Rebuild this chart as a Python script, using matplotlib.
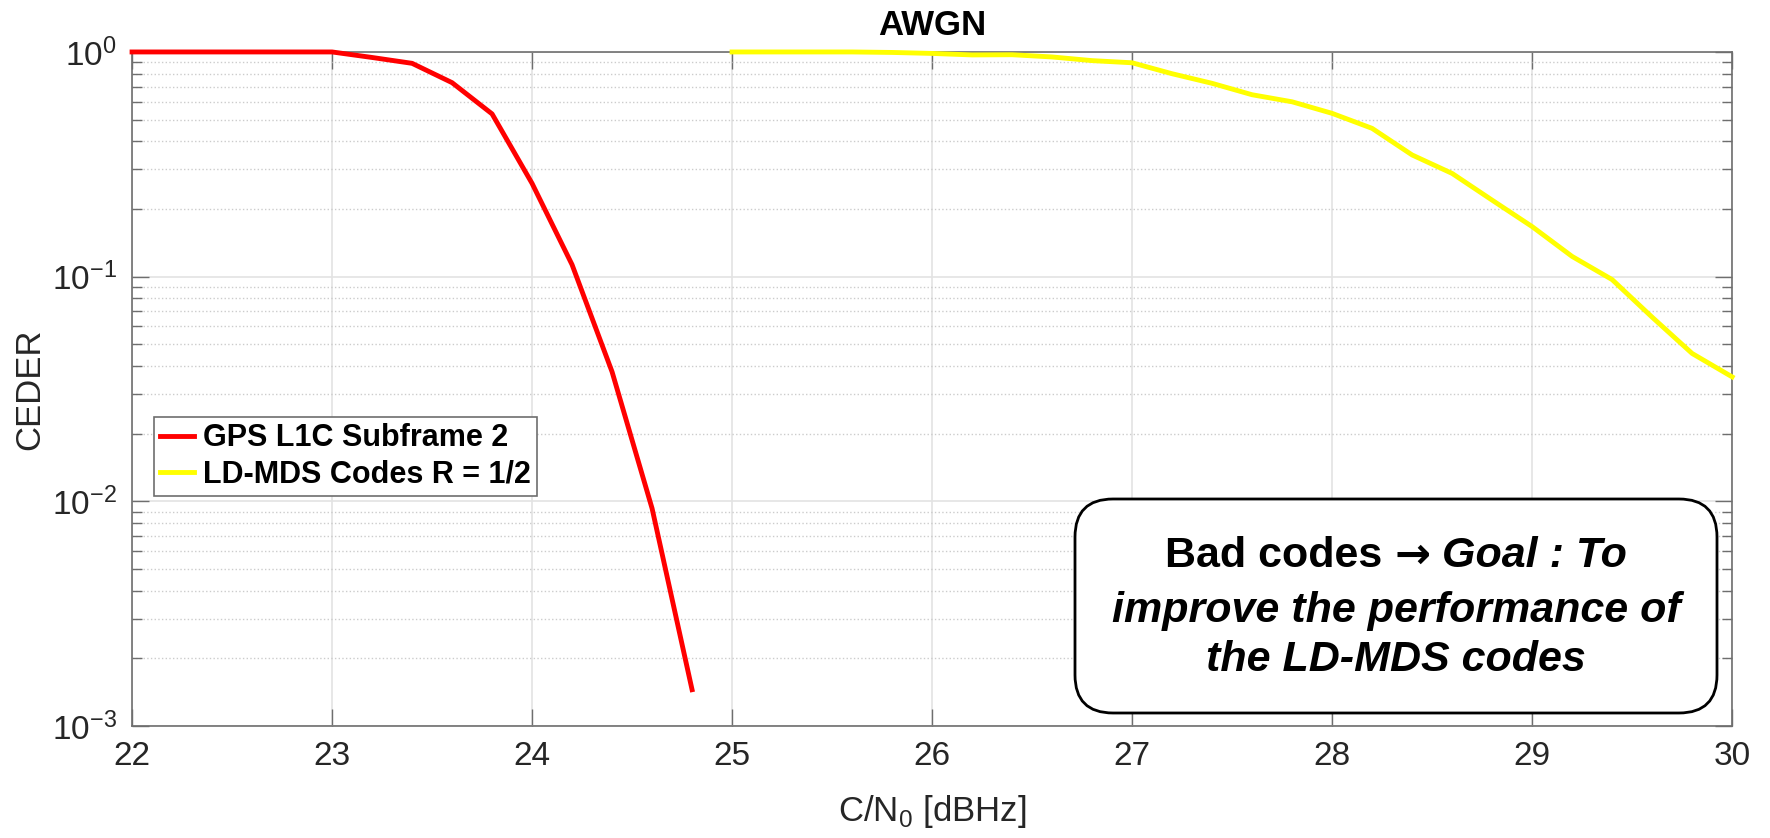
import numpy as np
import matplotlib.pyplot as plt
from matplotlib.patches import FancyBboxPatch
from matplotlib.transforms import IdentityTransform

plt.rcParams['font.family'] = ['Liberation Sans', 'DejaVu Sans']
plt.rcParams['axes.unicode_minus'] = False

# CEDER vs C/N0 curves (AWGN channel)
cn0_gps = [22.0, 22.2, 22.4, 22.6, 22.8, 23.0, 23.2, 23.4, 23.6, 23.8, 24.0, 24.2, 24.4, 24.6, 24.8]
ceder_gps = [1.0, 1.0, 1.0, 1.0, 1.0, 1.0, 0.945, 0.89, 0.73, 0.53, 0.26, 0.113, 0.0377, 0.0093, 0.00145]

cn0_ldmds = [25.0, 25.2, 25.4, 25.6, 25.8, 26.0, 26.2, 26.4, 26.6, 26.8, 27.0, 27.2, 27.4,
             27.6, 27.8, 28.0, 28.2, 28.4, 28.6, 28.8, 29.0, 29.2, 29.4, 29.6, 29.8, 30.0]
ceder_ldmds = [1.0, 1.0, 1.0, 1.0, 0.995, 0.985, 0.97, 0.972, 0.95, 0.915, 0.895, 0.80, 0.725,
               0.645, 0.60, 0.533, 0.457, 0.348, 0.288, 0.219, 0.167, 0.123, 0.097, 0.066, 0.0455, 0.0358]

labels = ['GPS L1C Subframe 2', 'LD-MDS Codes R = 1/2']
xticks = [22, 23, 24, 25, 26, 27, 28, 29, 30]

axis_gray = '#6e6e6e'
text_gray = '#262626'

fig = plt.figure(figsize=(17.7, 8.38), dpi=100)
ax = fig.add_axes([0.0746, 0.1337, 0.904, 0.8043])

ax.plot(cn0_gps, ceder_gps, color='#ff0000', lw=3.5, label=labels[0], clip_on=False, zorder=5)
ax.plot(cn0_ldmds, ceder_ldmds, color='#ffff00', lw=3.5, label=labels[1], clip_on=False, zorder=5)

ax.set_yscale('log')
ax.set_xlim(22, 30)
ax.set_ylim(1e-3, 1)
ax.set_xticks(xticks)
ax.set_yticks([1e-3, 1e-2, 1e-1, 1])

ax.set_axisbelow(True)
ax.grid(True, which='major', color='#e3e3e3', lw=1.2, ls='-')
ax.grid(True, which='minor', axis='y', color='#cccccc', lw=1.0, ls=':')

for s in ax.spines.values():
    s.set_color(axis_gray)
    s.set_linewidth(1.2)

ax.tick_params(axis='both', which='major', direction='in', length=12, width=1,
               color=axis_gray, labelsize=24, labelcolor=text_gray, top=True, right=True)
ax.tick_params(axis='x', which='major', pad=11)
ax.tick_params(axis='y', which='major', pad=11)
ax.tick_params(axis='y', which='minor', direction='in', length=7, width=1,
               color=axis_gray, left=True, right=True)
ax.tick_params(axis='x', which='minor', bottom=False, top=False)

ax.set_title('AWGN', fontsize=25, fontweight='bold', pad=12)
ax.set_xlabel('C/N$_\\mathdefault{0}$ [dBHz]', fontsize=25, color=text_gray, labelpad=15)
ax.set_ylabel('CEDER', fontsize=25, color=text_gray, labelpad=4)

leg = ax.legend(loc='upper left', bbox_to_anchor=(0.0137, 0.458), borderaxespad=0,
                fancybox=False, edgecolor=axis_gray, framealpha=1,
                prop={'weight': 'bold', 'size': 22}, handlelength=1.1,
                handletextpad=0.3, borderpad=0.2, labelspacing=0.2)
leg.get_frame().set_linewidth(1.2)

# rounded annotation box, in pixels
H = 838
box = FancyBboxPatch((1075, H - 713), 642, 214, boxstyle='round,pad=0,rounding_size=38',
                     transform=IdentityTransform(), facecolor='white', edgecolor='black',
                     lw=2, zorder=10)
fig.add_artist(box)

box_size = 31
cx = 1396
fig.canvas.draw()
r = fig.canvas.get_renderer()

# first line mixes upright, arrow and italic pieces
pieces = [('Bad codes ', 'normal', ['Liberation Sans']),
          ('\u2192', 'normal', ['DejaVu Sans']),
          (' Goal : To', 'italic', ['Liberation Sans'])]
parts = []
for s, style, fam in pieces:
    t = fig.text(0, H - 556, s, transform=IdentityTransform(), fontsize=box_size,
                 fontweight='bold', fontstyle=style, family=fam, va='center', ha='left', zorder=11)
    parts.append(t)
widths = [t.get_window_extent(r).width for t in parts]
x = cx - sum(widths) / 2
for t, w in zip(parts, widths):
    t.set_x(x)
    x += w

for txt, y in [('improve the performance of', 611), ('the LD-MDS codes', 660)]:
    fig.text(cx, H - y, txt, transform=IdentityTransform(), fontsize=box_size, fontweight='bold',
             fontstyle='italic', va='center', ha='center', zorder=11)

fig.savefig('out.png', dpi=100)
